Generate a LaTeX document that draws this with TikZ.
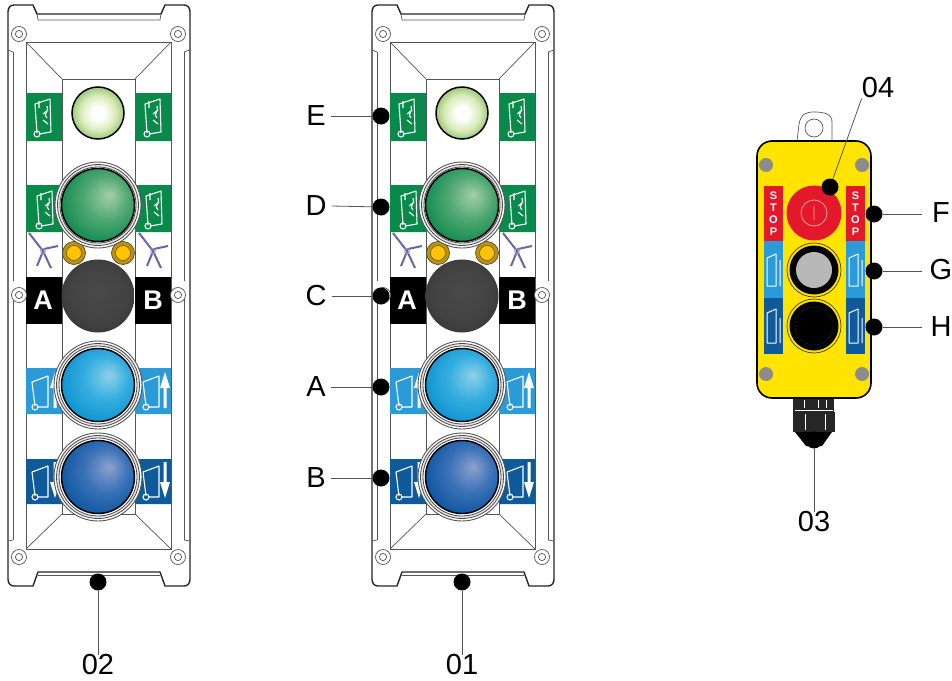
\documentclass[tikz,border=0pt]{standalone}
\usepackage{fontspec}
\setmainfont{Liberation Sans}
\definecolor{lblgreen}{HTML}{0A8A4A}
\definecolor{lblsky}{HTML}{2A9AD8}
\definecolor{lblnavy}{HTML}{0F5A9A}
\definecolor{boxyellow}{HTML}{FFE400}
\definecolor{stopred}{HTML}{E3192B}
\definecolor{lineg}{HTML}{555555}
\definecolor{ringg}{HTML}{C8C8C8}
\definecolor{amber}{HTML}{FFC400}
\definecolor{scis}{HTML}{6A64A8}
\definecolor{pa}{HTML}{FFFFFF}\definecolor{pb}{HTML}{D9EBB8}\definecolor{pc}{HTML}{8FBF70}\definecolor{pd}{HTML}{4F9A55}
\definecolor{ga}{HTML}{A4CFA8}\definecolor{gb}{HTML}{4FA872}\definecolor{gc}{HTML}{118A50}\definecolor{gd}{HTML}{0A6A3C}
\definecolor{sa}{HTML}{8FD0EA}\definecolor{sb}{HTML}{35AEE0}\definecolor{sc}{HTML}{0E92D0}\definecolor{sd}{HTML}{0A78B0}
\definecolor{na}{HTML}{8FA0CC}\definecolor{nb}{HTML}{3A72B8}\definecolor{nc}{HTML}{0F55A0}\definecolor{nd}{HTML}{0A3F7C}
\definecolor{ka}{HTML}{4A4A4A}\definecolor{kb}{HTML}{424242}\definecolor{kc}{HTML}{2C2C2C}
\pgfdeclareradialshading{pilotshade}{\pgfpoint{0bp}{0bp}}{color(0bp)=(pa);color(6bp)=(pa);color(17bp)=(pb);color(27bp)=(pc);color(36bp)=(pd)}
\pgfdeclareradialshading{greenshade}{\pgfpoint{8bp}{7bp}}{color(0bp)=(ga);color(15bp)=(gb);color(30bp)=(gc);color(50bp)=(gd)}
\pgfdeclareradialshading{skyshade}{\pgfpoint{8bp}{7bp}}{color(0bp)=(sa);color(15bp)=(sb);color(30bp)=(sc);color(50bp)=(sd)}
\pgfdeclareradialshading{navyshade}{\pgfpoint{8bp}{7bp}}{color(0bp)=(na);color(15bp)=(nb);color(30bp)=(nc);color(50bp)=(nd)}
\pgfdeclareradialshading{blackshade}{\pgfpoint{0bp}{4bp}}{color(0bp)=(ka);color(20bp)=(kb);color(38bp)=(kc)}
\tikzset{
  x=1pt,y=-1pt,
  thin line/.style={draw=lineg,line width=0.7pt},
  body line/.style={draw=black!85,line width=1.4pt,line join=round},
  icon line/.style={draw=white,line width=1.1pt,line join=round},
  marker/.style={circle,fill=black,inner sep=0pt,minimum size=17pt},
  callout/.style={font=\fontsize{29}{29}\selectfont,inner sep=0pt},
  leader/.style={draw=lineg,line width=0.8pt},
  plate/.style={inner sep=0pt,minimum width=#1,rectangle},
  letter/.style={font=\fontsize{27}{27}\selectfont\bfseries,text=white,inner sep=0pt},
}
\newcommand{\screw}[2]{%
  \draw[thin line,fill=white] (#1,#2) circle (7.5pt);
  \draw[thin line] (#1,#2) circle (3.6pt);}
\newcommand{\doorg}[2]{\begin{scope}[shift={(#1,#2)}]
  \draw[icon line] (3,35) -- (1,6) -- (16,1) -- (17,34) -- (5,36);
  \draw[icon line] (3,36) circle (3pt);
  \draw[icon line] (5,3) -- (5,10) (13,8) .. controls (16,14) and (8,16) .. (13,20) (9,22) -- (14,26) (14,12) -- (9,16);
\end{scope}}
\newcommand{\doorb}[2]{\begin{scope}[shift={(#1,#2)}]
  \draw[icon line] (3,35) -- (0,11) -- (16,5) -- (16,36) -- (5,36);
  \draw[icon line] (3,36) circle (3pt);
\end{scope}}
\newcommand{\arrowup}[2]{\fill[white] (#1,#2) -- ++(-5,16) -- ++(3.5,0) -- ++(0,20) -- ++(3,0) -- ++(0,-20) -- ++(3.5,0) -- cycle;}
\newcommand{\arrowdn}[2]{\fill[white] (#1,#2) -- ++(-5,-16) -- ++(3.5,0) -- ++(0,-20) -- ++(3,0) -- ++(0,20) -- ++(3.5,0) -- cycle;}
\newcommand{\bigbutton}[4]{%
  \draw[draw=lineg,fill=white,line width=0.9pt] (#1,#2) circle (#4pt);
  \draw[draw=black!70,fill=ringg!50,line width=0.8pt] (#1,#2) circle (#4pt-2.5pt);
  \draw[draw=black!70,fill=white,line width=0.8pt] (#1,#2) circle (#4pt-5pt);
  \shade[shading=#3] (#1,#2) circle (36.5pt);
  \draw[black,line width=1.5pt] (#1,#2) circle (36.5pt);}
\newcommand{\scissors}[2]{\begin{scope}[shift={(#1,#2)}]
  \draw[scis,line width=2pt] (0,0) -- (14,18) -- (22,35);
  \draw[scis,line width=2pt] (29,13) -- (15,16) -- (8,33);
  \draw[scis!60,line width=0.8pt] (14,18) circle (2.5pt);
\end{scope}}
\newcommand{\panel}[2]{\begin{scope}[xshift=#2pt]
  \draw[body line,fill=white] (14,5) -- (33,5) -- (37,14) -- (161,14) -- (165,5) -- (184,5) .. controls (188,5) and (190,8) .. (190,12)
     -- (190,579) .. controls (190,583) and (188,586) .. (184,586) -- (165,586) -- (160,572) -- (38,572) -- (33,586) -- (14,586)
     .. controls (10,586) and (8,583) .. (8,579) -- (8,12) .. controls (8,8) and (10,5) .. (14,5) -- cycle;
  \draw[thin line] (38,20) -- (160,20) (38,20) -- (37,14) (160,20) -- (161,14);
  \draw[thin line] (38,575) -- (160,575);
  \draw[thin line] (13,52) -- (13,281) (13,299) -- (13,540);
  \draw[thin line] (8,50) -- (13,52) (8,541) -- (13,540);
  \draw[thin line] (184,52) -- (184,281) (184,299) -- (184,540);
  \draw[thin line] (190,50) -- (184,52) (190,541) -- (184,540);
  \draw[thin line] (26,42) rectangle (171,549);
  \draw[thin line] (62,79) rectangle (135,514);
  \draw[thin line] (26,42) -- (62,79) (171,42) -- (135,79) (26,549) -- (62,514) (171,549) -- (135,514);
  \fill[lblgreen] (26,93) rectangle (62,141) (135,93) rectangle (171,141);
  \fill[lblgreen] (26,185) rectangle (62,232) (135,185) rectangle (171,232);
  \fill[lblsky] (26,368) rectangle (62,414) (135,368) rectangle (171,414);
  \fill[lblnavy] (26,459) rectangle (62,504) (135,459) rectangle (171,504);
  \doorg{34}{98} \doorg{144}{98} \doorg{36}{190} \doorg{145}{190}
  \doorb{32}{371} \doorb{143}{371} \doorb{32}{461} \doorb{143}{461}
  \arrowup{165}{372} \arrowdn{165}{498} \arrowup{55}{372} \arrowdn{55}{498}
  \scissors{29}{233} \scissors{139}{233}
  \node[fill=black,plate=36pt,minimum height=47pt] (#1plA) at (44,300) {};
  \node[fill=black,plate=36pt,minimum height=47pt] (#1plB) at (153,300) {};
  \node[letter] (#1A) at (43,300) {A};
  \node[letter] (#1B) at (153,300) {B};
  \screw{19}{34}\screw{178}{34}\screw{19}{295}\screw{178}{295}\screw{19}{557}\screw{178}{557}
  \shade[shading=pilotshade] (98,113) circle (26pt);
  \draw[black,line width=1.5pt] (98,113) circle (26pt);
  \foreach \xx in {74,123}{
    \draw[draw=black!70,fill=amber!75!black,line width=0.7pt] (\xx,253) circle (11.5pt);
    \draw[draw=black!70,fill=amber,line width=0.5pt] (\xx,253) circle (7.5pt);}
  \bigbutton{98}{205}{greenshade}{43}
  \shade[shading=blackshade] (98,296) circle (36.5pt);
  \bigbutton{98}{385}{skyshade}{44}
  \bigbutton{98}{477}{navyshade}{44}
\end{scope}}
\begin{document}
\begin{tikzpicture}
\useasboundingbox (0,0) rectangle (952,680);
\panel{p}{0}
\panel{q}{364}
\node[marker] (d02) at (98,582) {};
\node[callout] (l02) at (98,665) {02};
\draw[leader] (d02) -- (l02.north);
\node[marker] (d01) at (462,582) {};
\node[callout] (l01) at (462,665) {01};
\draw[leader] (d01) -- (l01.north);
\node[marker] (dE) at (381,116) {};
\node[marker] (dD) at (381,207) {};
\node[marker] (dC) at (381,296) {};
\node[marker] (dA) at (381,387) {};
\node[marker] (dB) at (381,478) {};
\node[callout] (lE) at (316,116) {E};
\node[callout] (lD) at (316,206) {D};
\node[callout] (lC) at (316,296) {C};
\node[callout] (lA) at (316,387) {A};
\node[callout] (lB) at (316,478) {B};
\draw[leader] (lE.east) ++(5,0) -- (dE);
\draw[leader] (lD.east) ++(5,0) -- (dD);
\draw[leader] (lC.east) ++(5,0) -- (dC);
\draw[leader] (lA.east) ++(5,0) -- (dA);
\draw[leader] (lB.east) ++(5,0) -- (dB);
\draw[thin line,fill=white] (797,141) -- (799,124) .. controls (801,114) and (806,112) .. (814,112)
   .. controls (824,112) and (832,114) .. (832,122) -- (832,141);
\draw[thin line] (814,128) circle (9pt);
\fill[black!85] (793,398) rectangle (834,412);
\fill[black!85] (793,412) rectangle (835,432);
\fill[black] (795,432) -- (832,432) -- (822,446) -- (806,446) -- cycle;
\draw[white,line width=0.6pt] (804,400) -- (804,408) (818,400) -- (818,408) (826,400) -- (826,408) (795,410) -- (833,410) (805,414) -- (805,430) (825,414) -- (825,430);
\draw[black,line width=1.6pt,fill=boxyellow,rounded corners=15pt] (757,141) rectangle (871,398);
\foreach \xx/\yy in {766/165,862/165,766/374,862/374}{
  \fill[black!45] (\xx,\yy) circle (7pt);}
\foreach \xx in {764,846}{
  \fill[stopred] (\xx,186) rectangle (\xx+19,241);
  \fill[lblsky] (\xx,241) rectangle (\xx+19,298);
  \fill[lblnavy] (\xx,298) rectangle (\xx+19,354);
  \draw[icon line,line width=1pt] (\xx+3,286) -- (\xx+3,258) -- (\xx+12,254) -- (\xx+12,286) -- cycle (\xx+16,260) -- (\xx+16,286);
  \draw[icon line,line width=1pt] (\xx+3,343) -- (\xx+3,313) -- (\xx+12,309) -- (\xx+12,343) -- cycle (\xx+16,318) -- (\xx+16,343);
}
\node[white,font=\fontsize{11}{11}\selectfont\bfseries,align=center,inner sep=0pt] (st1) at (773.5,214) {S\\[1pt]T\\[1pt]O\\[1pt]P};
\node[white,font=\fontsize{11}{11}\selectfont\bfseries,align=center,inner sep=0pt] (st2) at (855.5,214) {S\\[1pt]T\\[1pt]O\\[1pt]P};
\fill[stopred] (814,213) circle (27.5pt);
\draw[stopred!40!white,line width=0.8pt] (814,213) circle (13pt) (814,206) -- (814,220);
\draw[black!70!amber,line width=0.7pt] (814,270) circle (27pt);
\fill[black] (814,270) circle (24.5pt);
\fill[black!28] (814,270) circle (18pt);
\draw[black!70!amber,line width=0.7pt] (814,326) circle (27pt);
\fill[black] (814,326) circle (24.5pt);
\draw[black!65,line width=0.4pt,densely dotted] (814,326) circle (19pt);
\node[marker] (d04) at (830,187) {};
\node[callout] (l04) at (878,88) {04};
\draw[leader] (d04) -- (l04.south west);
\node[marker] (dF) at (874,214) {};
\node[marker] (dG) at (874,271) {};
\node[marker] (dH) at (874,327) {};
\node[callout] (lF) at (941,213) {F};
\node[callout] (lG) at (941,270) {G};
\node[callout] (lH) at (941,327) {H};
\coordinate (eF) at (922,214);
\coordinate (eG) at (922,271);
\coordinate (eH) at (922,327);
\draw[leader] (dF) -- (eF);
\draw[leader] (dG) -- (eG);
\draw[leader] (dH) -- (eH);
\node[marker] (d03) at (814,440) {};
\node[callout] (l03) at (814,522) {03};
\draw[leader] (d03) -- (l03.north);
\end{tikzpicture}
\end{document}
